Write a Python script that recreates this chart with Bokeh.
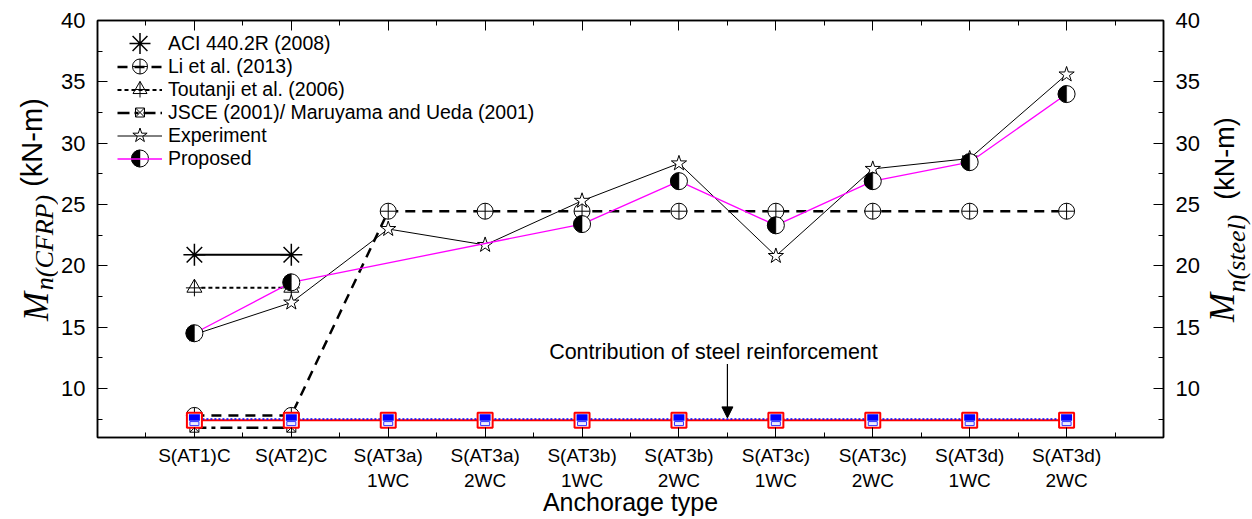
import math
from bokeh.plotting import figure
from bokeh.layouts import row
from bokeh.models import (Range1d, LinearAxis, FixedTicker, Legend, LegendItem,
                          Label, Arrow, NormalHead)
from bokeh.core.properties import value
from bokeh.embed import file_html
from bokeh.resources import INLINE

# ---------------- data ----------------
categories = ["S(AT1)C", "S(AT2)C", "S(AT3a)\n1WC", "S(AT3a)\n2WC", "S(AT3b)\n1WC",
              "S(AT3b)\n2WC", "S(AT3c)\n1WC", "S(AT3c)\n2WC", "S(AT3d)\n1WC", "S(AT3d)\n2WC"]
cat_pos = [1, 2, 3, 4, 5, 6, 7, 8, 9, 10]

aci_x = [1, 2]
aci_y = [20.9, 20.9]
li_x = [1, 2, 3, 4, 5, 6, 7, 8, 9, 10]
li_y = [7.8, 7.8, 24.45, 24.45, 24.45, 24.45, 24.45, 24.45, 24.45, 24.45]
toutanji_x = [1, 2]
toutanji_y = [18.2, 18.2]
jsce_x = [1, 2]
jsce_y = [6.8, 6.8]
exp_x = [1, 2, 3, 4, 5, 6, 7, 8, 9, 10]
exp_y = [14.4, 17.0, 23.0, 21.7, 25.3, 28.35, 20.8, 27.9, 28.75, 35.6]
prop_x = [1, 2, 5, 6, 7, 8, 9, 10]
prop_y = [14.5, 18.65, 23.4, 26.9, 23.3, 26.9, 28.45, 34.0]
steel_x = [1, 2, 3, 4, 5, 6, 7, 8, 9, 10]
steel_y = [7.4] * 10
steel_y2 = [7.5] * 10

y_major = [10, 15, 20, 25, 30, 35, 40]
y_minor = [7.5, 12.5, 17.5, 22.5, 27.5, 32.5, 37.5]
x_minor = [0.5, 1.5, 2.5, 3.5, 4.5, 5.5, 6.5, 7.5, 8.5, 9.5, 10.5]

legend_labels = ["ACI 440.2R (2008)", "Li et al. (2013)", "Toutanji et al. (2006)",
                 "JSCE (2001)/ Maruyama and Ueda (2001)", "Experiment", "Proposed"]
note_text = "Contribution of steel reinforcement"
x_title = "Anchorage type"

# ---------------- layout constants ----------------
PAGE_W, PAGE_H = 1252, 519
LEFT_W, RIGHT_W = 58, 50
TOP, BOTTOM = 20, 82
FRAME_W, FRAME_H = 1066, 417
Y_MIN, Y_MAX = 6, 40
PX = (Y_MAX - Y_MIN) / FRAME_H
SANS = "Liberation Sans"
SERIF = "Liberation Serif"

p = figure(frame_width=FRAME_W, frame_height=FRAME_H,
           x_range=Range1d(0, 11), y_range=Range1d(Y_MIN, Y_MAX),
           output_backend="svg", toolbar_location=None,
           x_axis_location=None, y_axis_location=None,
           min_border_left=97 - LEFT_W, min_border_right=PAGE_W - RIGHT_W - 1163,
           min_border_top=TOP, min_border_bottom=BOTTOM,
           background_fill_color="white", border_fill_color="white")
p.grid.visible = False
p.outline_line_color = "black"
p.outline_line_width = 1.5
p.extra_x_ranges = {"px": Range1d(0, FRAME_W)}
p.extra_y_ranges = {"py": Range1d(0, FRAME_H)}


def style_axis(ax, size="22px"):
    ax.axis_line_color = "black"
    ax.axis_line_width = 1.5
    ax.major_tick_in = 10
    ax.major_tick_out = 0
    ax.minor_tick_in = 5
    ax.minor_tick_out = 0
    ax.major_tick_line_color = "black"
    ax.minor_tick_line_color = "black"
    ax.major_label_text_font = SANS
    ax.major_label_text_font_size = size
    ax.major_label_text_color = "black"
    ax.major_label_standoff = 12


xb = LinearAxis(ticker=FixedTicker(ticks=cat_pos, minor_ticks=x_minor),
                major_label_overrides={k: c for k, c in zip(cat_pos, categories)})
style_axis(xb, "19px")
xb.major_label_standoff = 7
xb.major_label_text_line_height = 1.2
xb.axis_label = x_title
xb.axis_label_text_font = SANS
xb.axis_label_text_font_style = "normal"
xb.axis_label_text_font_size = "25px"
xb.axis_label_text_color = "black"
xb.axis_label_standoff = -6
p.add_layout(xb, "below")

xt = LinearAxis(ticker=FixedTicker(ticks=cat_pos, minor_ticks=x_minor))
style_axis(xt)
xt.major_label_text_font_size = "0px"
xt.major_label_text_color = None
xt.major_label_standoff = 0
p.add_layout(xt, "above")

yl = LinearAxis(ticker=FixedTicker(ticks=y_major, minor_ticks=y_minor))
style_axis(yl)
p.add_layout(yl, "left")

yr = LinearAxis(ticker=FixedTicker(ticks=y_major, minor_ticks=y_minor))
style_axis(yr)
p.add_layout(yr, "right")

# ---------------- series ----------------
li_line = p.line(li_x, li_y, line_color="black", line_width=2.5, line_dash="10 7")
p.scatter(li_x, li_y, marker="circle_cross", size=16, fill_color="white",
          line_color="black", line_width=1)

aci_line = p.line(aci_x, aci_y, line_color="black", line_width=2)
p.scatter(aci_x, aci_y, marker="asterisk", size=22, line_color="black", line_width=1.5)

tou_line = p.line(toutanji_x, toutanji_y, line_color="black", line_width=2, line_dash="4 3")
p.scatter(toutanji_x, toutanji_y, marker="triangle", size=15, fill_color="white",
          line_color="black", line_width=1)
p.scatter(toutanji_x, toutanji_y, marker="cross", size=17, line_color="black", line_width=1)

jsce_line = p.line(jsce_x, jsce_y, line_color="black", line_width=2.5, line_dash="12 5 4 5")
p.scatter(jsce_x, jsce_y, marker="square_x", size=9, fill_color="white",
          line_color="black", line_width=1)

# steel contribution
p.line(steel_x, steel_y, line_color="red", line_width=2)
p.line(steel_x, steel_y2, line_color="blue", line_width=1.5, line_dash="2 2")
p.scatter(steel_x, steel_y, marker="square", size=15, fill_color="white",
          line_color="red", line_width=2)
p.rect(x=steel_x, y=[v + 2.75 * PX for v in steel_y], width=11, height=6.5,
       width_units="screen", height_units="screen", fill_color="blue", line_color=None)
p.rect(x=steel_x, y=[v - 3.25 * PX for v in steel_y], width=9, height=4,
       width_units="screen", height_units="screen", fill_color="#eeeeff", line_color="#3333ff",
       line_width=1)

exp_line = p.line(exp_x, exp_y, line_color="black", line_width=1)
p.scatter(exp_x, exp_y, marker="star", size=16, fill_color="white",
          line_color="black", line_width=1)

prop_line = p.line(prop_x, prop_y, line_color="#ff00ff", line_width=1.3)
p.scatter(prop_x, prop_y, marker="circle", size=17, fill_color="white",
          line_color="black", line_width=1)
p.wedge(x=prop_x, y=prop_y, radius=8.5, radius_units="screen",
        start_angle=math.pi / 2, end_angle=3 * math.pi / 2,
        fill_color="black", line_color="black", line_width=0.5)

# ---------------- legend ----------------
LEG_X, LEG_TOP, ROW_H, GLYPH_W = 20, 11.5, 23, 45
aci_leg_line = p.line(x=[], y=[], line_color="black", line_width=2, line_dash="7 5")
leg_renderers = [aci_leg_line, li_line, tou_line, jsce_line, exp_line, prop_line]
legend = Legend(items=[LegendItem(label=l, renderers=[r]) for l, r in zip(legend_labels, leg_renderers)],
                location=(LEG_X, FRAME_H - LEG_TOP - 6 * ROW_H),
                glyph_width=GLYPH_W, glyph_height=ROW_H, label_height=ROW_H,
                label_standoff=6, spacing=0, padding=0, margin=0,
                border_line_color=None, background_fill_alpha=0,
                label_text_font=SANS, label_text_font_size="19.5px", label_text_color="black")
p.add_layout(legend)

lx = LEG_X + GLYPH_W / 2
ly = [FRAME_H - LEG_TOP - (i + 0.5) * ROW_H for i in range(6)]
kw = dict(x_range_name="px", y_range_name="py", level="overlay")
p.scatter([lx], [ly[0]], marker="asterisk", size=21, line_color="black", line_width=1.5, **kw)
p.scatter([lx], [ly[1]], marker="circle_cross", size=15, fill_color="white", line_color="black", **kw)
p.scatter([lx], [ly[2]], marker="triangle", size=14, fill_color="white", line_color="black", **kw)
p.scatter([lx], [ly[2]], marker="cross", size=16, line_color="black", **kw)
p.scatter([lx], [ly[3]], marker="square_x", size=9, fill_color="white", line_color="black", **kw)
p.scatter([lx], [ly[4]], marker="star", size=15, fill_color="white", line_color="black", **kw)
p.scatter([lx], [ly[5]], marker="circle", size=17, fill_color="white", line_color="black", **kw)
p.wedge(x=[lx], y=[ly[5]], radius=8.5, radius_units="screen",
        start_angle=math.pi / 2, end_angle=3 * math.pi / 2,
        fill_color="black", line_color="black", line_width=0.5, **kw)

# ---------------- annotation ----------------
p.add_layout(Label(x=6.356, y=12.95, text=note_text,
                   text_align="center", text_baseline="middle",
                   text_font=SANS, text_font_size="21.5px", text_color="black"))
p.add_layout(Arrow(end=NormalHead(size=11, fill_color="black", line_color="black"),
                   x_start=6.5, y_start=12.0, x_end=6.5, y_end=7.6,
                   line_color="black", line_width=1.2))


# ---------------- axis titles (side strips, frames aligned with main frame) ----------------
def strip(width):
    f = figure(frame_width=width, frame_height=FRAME_H,
               x_range=Range1d(0, width),
               y_range=Range1d(PAGE_H - TOP - FRAME_H, PAGE_H - TOP),
               output_backend="svg", toolbar_location=None, title=None,
               x_axis_location=None, y_axis_location=None,
               min_border_left=0, min_border_right=0,
               min_border_top=TOP, min_border_bottom=BOTTOM,
               background_fill_color="white", border_fill_color="white")
    f.outline_line_color = None
    f.grid.visible = False
    return f


def vtext(f, x, y_page, text, font, size, style="normal"):
    f.text(x=[x], y=[PAGE_H - y_page], text=[text], angle=math.pi / 2,
           text_align="center", text_baseline="middle", text_color="black",
           text_line_height=1.0,
           text_font=value(font), text_font_size=size, text_font_style=style)


pl = strip(LEFT_W)
vtext(pl, 36, 306, "M", SERIF, "35px", "italic")
vtext(pl, 44, 242, "n(CFRP)", SERIF, "26px", "italic")
vtext(pl, 31, 142, "(kN-m)", SANS, "29px")

RX0 = PAGE_W - RIGHT_W
pr = strip(RIGHT_W)
vtext(pr, 1222 - RX0, 307, "M", SERIF, "35px", "italic")
vtext(pr, 1236 - RX0, 253, "n(steel)", SERIF, "26px", "italic")
vtext(pr, 1224 - RX0, 158, "(kN-m)", SANS, "27px")

layout = row(pl, p, pr, spacing=0)
open("out.html", "w").write(file_html(layout, INLINE))
